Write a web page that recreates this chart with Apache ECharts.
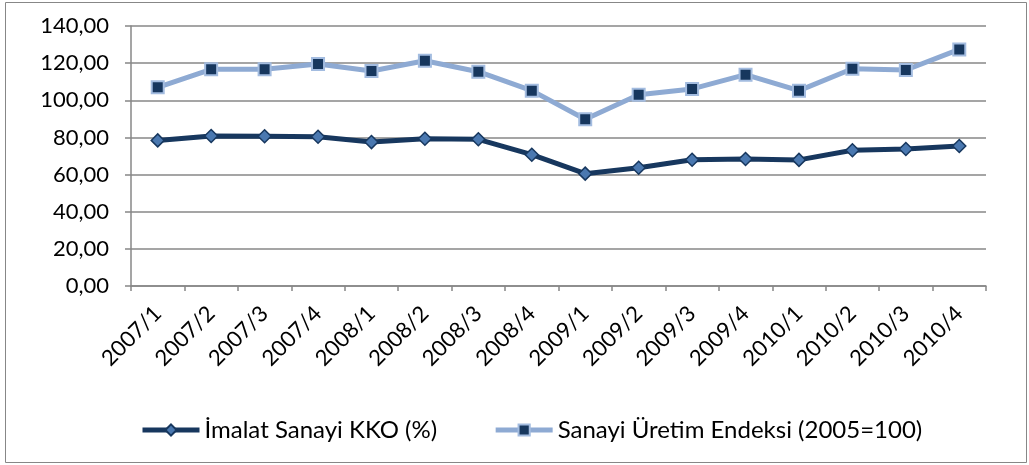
<!DOCTYPE html>
<html>
<head>
<meta charset="utf-8">
<script src="https://cdn.jsdelivr.net/npm/echarts@6/dist/echarts.min.js"></script>
<style>
  html, body { margin: 0; padding: 0; background: #fff; }
  #chart { width: 1029px; height: 465px; }
</style>
</head>
<body>
<div id="chart"></div>
<script>
// ceyrekler
var quarters = ['2007/1', '2007/2', '2007/3', '2007/4', '2008/1', '2008/2', '2008/3', '2008/4',
    '2009/1', '2009/2', '2009/3', '2009/4', '2010/1', '2010/2', '2010/3', '2010/4'];
// İmalat Sanayi KKO (%)
var kko = [78.4, 80.8, 80.6, 80.4, 77.5, 79.3, 79.0, 70.7,
    60.5, 63.7, 68.0, 68.4, 67.9, 73.1, 73.8, 75.4];
// Sanayi Üretim Endeksi (2005=100)
var endeks = [107.0, 116.7, 116.7, 119.5, 115.8, 121.3, 115.4, 105.2,
    89.8, 103.0, 106.1, 113.8, 105.2, 117.0, 116.3, 127.4];

var font = 'Lato';
var gray = '#878787';

var chart = echarts.init(document.getElementById('chart'));
chart.setOption({
    animation: false,
    backgroundColor: '#fff',
    textStyle: { fontFamily: font },
    graphic: [{
        type: 'rect',
        shape: { x: 5.5, y: 2.5, width: 1021, height: 460 },
        style: { fill: 'none', stroke: gray, lineWidth: 1 },
        silent: true
    }],
    grid: { left: 131, right: 43, top: 26, bottom: 179 },
    legend: {
        left: 135,
        top: 413,
        itemWidth: 57,
        itemHeight: 14,
        itemGap: 56,
        lineStyle: { width: 5 },
        textStyle: { fontFamily: font, fontSize: 24, color: '#000' },
        data: ['İmalat Sanayi KKO (%)', 'Sanayi Üretim Endeksi (2005=100)']
    },
    xAxis: {
        type: 'category',
        data: quarters,
        boundaryGap: true,
        axisLine: { lineStyle: { color: gray, width: 1.5 } },
        axisTick: { show: true, length: 5, interval: 0, lineStyle: { color: gray, width: 1.5 } },
        axisLabel: { interval: 0, rotate: 45, margin: 24, color: '#000', fontFamily: font, fontSize: 22 }
    },
    yAxis: {
        type: 'value',
        min: 0,
        max: 140,
        interval: 20,
        axisLine: { show: true, lineStyle: { color: gray, width: 1.5 } },
        axisTick: { show: true, length: 6, lineStyle: { color: gray, width: 1.5 } },
        splitLine: { lineStyle: { color: gray, width: 1.5 } },
        axisLabel: {
            margin: 22, color: '#000', fontFamily: font, fontSize: 22,
            formatter: function (v) { return v.toFixed(2).replace('.', ','); }
        }
    },
    series: [{
        name: 'İmalat Sanayi KKO (%)',
        type: 'line',
        data: kko,
        symbol: 'diamond',
        symbolSize: 13,
        showAllSymbol: true,
        lineStyle: { color: '#17375e', width: 5 },
        itemStyle: { color: '#4a78b0', borderColor: '#17375e', borderWidth: 1.5 }
    }, {
        name: 'Sanayi Üretim Endeksi (2005=100)',
        type: 'line',
        data: endeks,
        symbol: 'rect',
        symbolSize: 12,
        showAllSymbol: true,
        lineStyle: { color: '#8eaad3', width: 5 },
        itemStyle: { color: '#17375e', borderColor: '#a3bce0', borderWidth: 2 }
    }]
});
</script>
</body>
</html>
